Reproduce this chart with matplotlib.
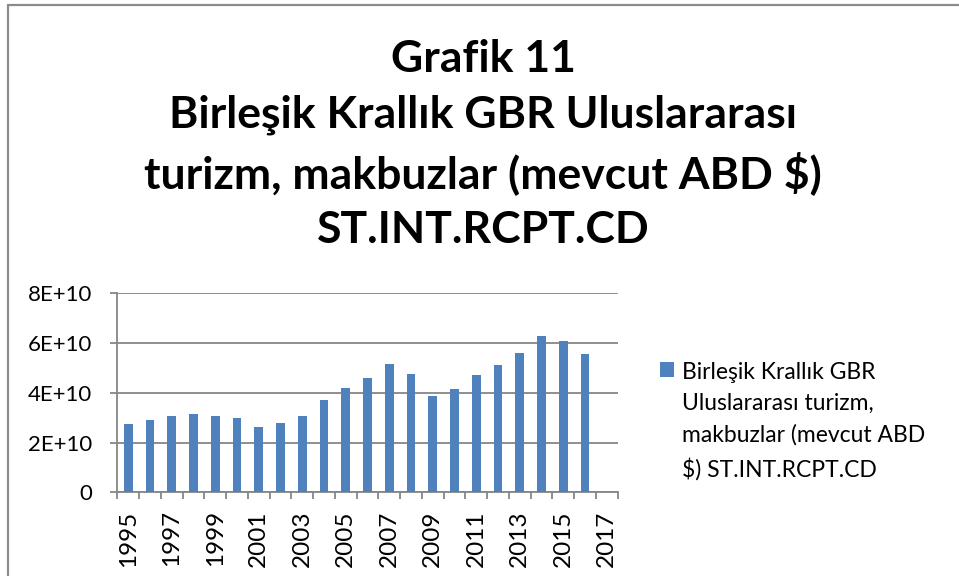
import numpy as np
import matplotlib
matplotlib.use('Agg')
import matplotlib.pyplot as plt
from matplotlib.patches import Rectangle

# data
years = list(range(1995, 2018))
receipts = [2.75, 2.91, 3.05, 3.16, 3.08, 3.00, 2.61, 2.77, 3.07, 3.72, 4.18,
            4.59, 5.15, 4.77, 3.86, 4.15, 4.72, 5.10, 5.61, 6.27, 6.09, 5.57, np.nan]
receipts = np.array(receipts) * 1e10
yticks = [0, 2e10, 4e10, 6e10, 8e10]
yticklabels = ['0', '2E+10', '4E+10', '6E+10', '8E+10']

title = ('Grafik 11\nBirleşik Krallık GBR Uluslararası\n'
         'turizm, makbuzlar (mevcut ABD $)\nST.INT.RCPT.CD')
series_label = ('Birleşik Krallık GBR\nUluslararası turizm,\n'
                'makbuzlar (mevcut ABD\n$) ST.INT.RCPT.CD')

matplotlib.rcParams['font.family'] = ['Lato', 'DejaVu Sans']

grey = '#868686'
blue = '#4F81BD'

fig = plt.figure(figsize=(9.59, 5.76), dpi=100)
ax = fig.add_axes([0.1223, 0.1453, 0.5217, 0.3455])

# chart area border (cropped on right and bottom)
fig.patches.append(Rectangle((8/959, -0.1), 1.2, 1 - 5/576 + 0.1, transform=fig.transFigure,
                             fill=False, edgecolor='#8c8c8c', lw=1.6))

x = np.arange(len(years))
ax.bar(x, receipts, width=0.4, color=blue, label=series_label, zorder=3)

ax.set_xlim(-0.5, len(years) - 0.5)
ax.set_ylim(0, 8e10)
ax.set_yticks(yticks)
ax.set_yticklabels(yticklabels, fontsize=16)
ax.yaxis.grid(True, color=grey, lw=1.3, zorder=0)

ax.set_xticks(x[::2])
ax.set_xticklabels([str(y) for y in years[::2]], rotation=90, fontsize=17.5)
ax.set_xticks(np.arange(len(years) + 1) - 0.5, minor=True)
ax.tick_params(axis='x', which='major', length=0, pad=13)
ax.tick_params(axis='x', which='minor', length=5, color=grey, width=1.3)
ax.tick_params(axis='y', length=5, color=grey, width=1.3, pad=13)

for s in ['top', 'right']:
    ax.spines[s].set_visible(False)
for s in ['left', 'bottom']:
    ax.spines[s].set_color(grey)
    ax.spines[s].set_linewidth(1.3)

fig.text(0.504, 0.932, title, ha='center', va='top', fontsize=32,
         fontweight='bold', linespacing=1.45)

leg = ax.legend(loc='upper left', bbox_to_anchor=(0.688, 0.372),
                bbox_transform=fig.transFigure, frameon=False,
                borderaxespad=0, borderpad=0,
                fontsize=16.5, handlelength=0.62, handleheight=0.62, handletextpad=0.35)
for t in leg.get_texts():
    t.set_linespacing(1.6)
# put the colour square next to the first text line, as Excel does
for col in leg._legend_handle_box.get_children():
    for item in col.get_children():
        item.align = 'top'

fig.savefig('out.png', dpi=100)
